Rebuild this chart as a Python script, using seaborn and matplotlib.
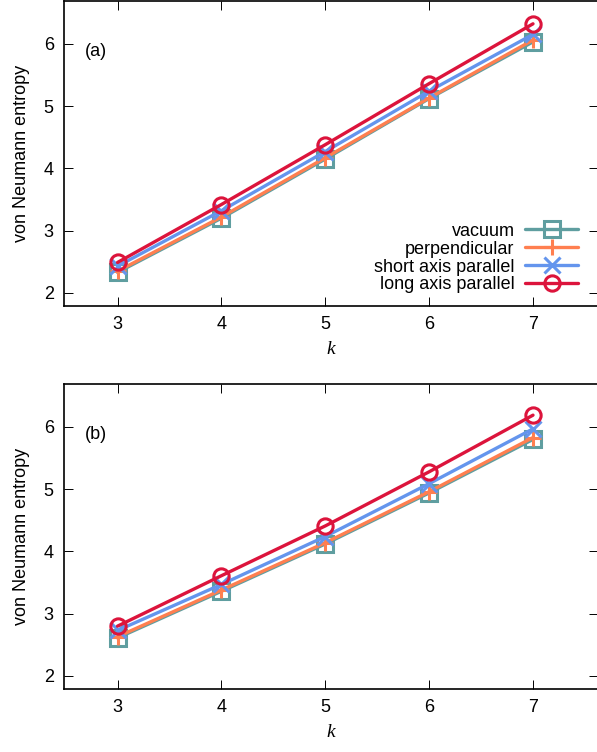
import numpy as np
import pandas as pd
import matplotlib
matplotlib.use("Agg")
import matplotlib.pyplot as plt
import seaborn as sns

# data
k = [3, 4, 5, 6, 7]
series = ["vacuum", "perpendicular", "short axis parallel", "long axis parallel"]

a_vacuum = [2.33, 3.20, 4.15, 5.12, 6.03]
a_perp = [2.35, 3.22, 4.17, 5.13, 6.06]
a_short = [2.43, 3.32, 4.27, 5.24, 6.15]
a_long = [2.49, 3.42, 4.38, 5.36, 6.32]

b_vacuum = [2.61, 3.36, 4.12, 4.94, 5.80]
b_perp = [2.63, 3.38, 4.14, 4.96, 5.83]
b_short = [2.73, 3.47, 4.24, 5.09, 5.97]
b_long = [2.80, 3.61, 4.41, 5.28, 6.19]

colors = ["#5f9ea0", "#ff7f50", "#6495ed", "#dc143c"]
markers = ["s", "+", "x", "o"]

sns.set_style("ticks")
plt.rcParams["font.family"] = ["Liberation Sans", "DejaVu Sans"]
plt.rcParams["font.size"] = 13
plt.rcParams["text.color"] = "black"
plt.rcParams["axes.labelcolor"] = "black"
plt.rcParams["xtick.color"] = "black"
plt.rcParams["ytick.color"] = "black"

fig = plt.figure(figsize=(5.97, 7.52), dpi=100)
ax_a = fig.add_axes([0.1064, 0.593, 0.896, 0.406])
ax_b = fig.add_axes([0.1064, 0.0838, 0.896, 0.4055])


def draw_panel(ax, values, tag, legend):
    for name, vals, c, m in zip(series, values, colors, markers):
        fill = "none" if m in ("s", "o") else c
        sns.lineplot(x=k, y=vals, ax=ax, color=c, marker=m, markersize=11,
                     markerfacecolor=fill, markeredgecolor=c, markeredgewidth=2.2,
                     linewidth=2.4, label=name if legend else None)
    ax.set_xlim(2.48, 7.63)
    ax.set_ylim(1.79, 6.69)
    ax.set_xticks(k)
    ax.set_yticks([2, 3, 4, 5, 6])
    ax.tick_params(direction="in", length=6.5, width=0.7, top=True, right=True,
                   labelsize=13, pad=7)
    for sp in ax.spines.values():
        sp.set_linewidth(1.2)
        sp.set_color("black")
    ax.set_xlabel("k", fontsize=14, fontstyle="italic",
                  family=["Liberation Serif", "DejaVu Serif"], labelpad=6)
    ax.set_ylabel("von Neumann entropy", fontsize=13, labelpad=10)
    ax.text(0.04, 0.835, tag, transform=ax.transAxes, fontsize=13,
            ha="left", va="center")
    if legend:
        ax.legend(loc="lower right", bbox_to_anchor=(0.985, 0.0), frameon=False,
                  markerfirst=False, fontsize=13, handlelength=2.9,
                  labelspacing=0.05, handletextpad=0.6, borderaxespad=0.3)
    elif ax.get_legend() is not None:
        ax.get_legend().remove()


draw_panel(ax_a, [a_vacuum, a_perp, a_short, a_long], "(a)", True)
draw_panel(ax_b, [b_vacuum, b_perp, b_short, b_long], "(b)", False)

fig.savefig("out.png", dpi=100)
